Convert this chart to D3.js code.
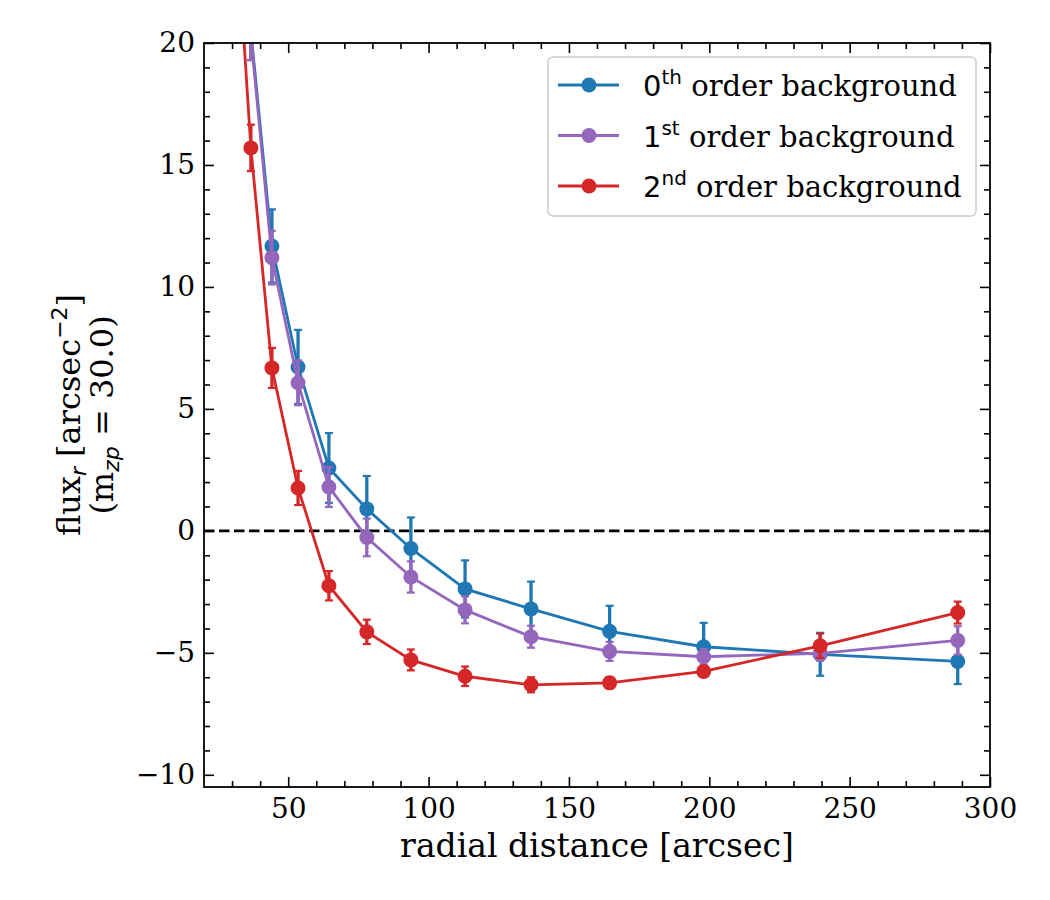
<!DOCTYPE html>
<html>
<head>
<meta charset="utf-8">
<script src="https://cdn.jsdelivr.net/npm/d3@7"></script>
<style>
  body { margin: 0; background: #fff; }
  svg { display: block; }
  text { font-family: "DejaVu Serif", serif; fill: #000; }
</style>
</head>
<body>
<svg id="chart" width="1050" height="900"></svg>
<script>
// radial bins [arcsec]
const radius = [30.5, 36.7, 44.2, 53.5, 64.5, 78.0, 93.7, 113.0, 136.5, 164.5, 198.0, 239.5, 288.5]

// flux per background order, with errors
const order0 = [40, 20.5, 11.68, 6.72, 2.58, 0.9, -0.72, -2.38, -3.2, -4.12, -4.75, -5.06, -5.35]
const order0Err = [2.5, 1.2, 1.5, 1.52, 1.43, 1.35, 1.27, 1.17, 1.12, 1.05, 0.98, 0.88, 0.93]
const order1 = [38, 20.3, 11.2, 6.07, 1.8, -0.27, -1.89, -3.24, -4.34, -4.94, -5.16, -5.02, -4.49]
const order1Err = [2.0, 1.0, 1.1, 0.92, 0.82, 0.77, 0.64, 0.55, 0.45, 0.39, 0.32, 0.3, 0.58]
const order2 = [26.8, 15.7, 6.68, 1.76, -2.25, -4.14, -5.29, -5.96, -6.31, -6.23, -5.76, -4.71, -3.35]
const order2Err = [1.2, 0.95, 0.82, 0.7, 0.6, 0.5, 0.43, 0.4, 0.31, 0.22, 0.2, 0.5, 0.45]

const seriesNames = ['0', '1', '2']
const seriesSup = ['th', 'st', 'nd']
const seriesColors = ['#1f77b4', '#9467bd', '#d62728']

const xTicks = [50, 100, 150, 200, 250, 300]
const yTicks = [-10, -5, 0, 5, 10, 15, 20]

const series = [order0, order1, order2].map((vals, i) => ({
  name: seriesNames[i], sup: seriesSup[i], color: seriesColors[i],
  points: vals.map((v, j) => ({ x: radius[j], y: v, e: [order0Err, order1Err, order2Err][i][j] }))
}))

// layout
const L = 204, R = 990, T = 43, B = 787
const svg = d3.select('#chart')

const x = d3.scaleLinear().domain([20, 300]).range([L, R])
const y = d3.scaleLinear().domain([-10.5, 20]).range([B, T])

svg.append('defs').append('clipPath').attr('id', 'plot')
  .append('rect').attr('x', L).attr('y', T).attr('width', R - L).attr('height', B - T)

// axes: ticks inward on all four sides
const minorX = d3.range(30, 300, 10).filter(v => v % 50 !== 0)
const minorY = d3.range(-10, 21, 1).filter(v => v % 5 !== 0)

function axisGroup(axis, tx, ty) {
  const g = svg.append('g').attr('transform', `translate(${tx},${ty})`).call(axis)
  g.select('.domain').remove()
  g.selectAll('.tick line').attr('stroke', '#000').attr('stroke-width', 1.6)
  g.selectAll('.tick text').style('font-size', '28px').style('font-family', '"DejaVu Serif", serif')
  return g
}

axisGroup(d3.axisBottom(x).tickValues(xTicks).tickSize(-10).tickPadding(11).tickFormat(d3.format('d')), 0, B)
axisGroup(d3.axisBottom(x).tickValues(minorX).tickSize(-6).tickFormat(''), 0, B)
axisGroup(d3.axisTop(x).tickValues(xTicks).tickSize(-10).tickFormat(''), 0, T)
axisGroup(d3.axisTop(x).tickValues(minorX).tickSize(-6).tickFormat(''), 0, T)
axisGroup(d3.axisLeft(y).tickValues(yTicks).tickSize(-10).tickPadding(9).tickFormat(d3.format('d')), L, 0)
axisGroup(d3.axisLeft(y).tickValues(minorY).tickSize(-6).tickFormat(''), L, 0)
axisGroup(d3.axisRight(y).tickValues(yTicks).tickSize(-10).tickFormat(''), R, 0)
axisGroup(d3.axisRight(y).tickValues(minorY).tickSize(-6).tickFormat(''), R, 0)

// zero line
svg.append('line')
  .attr('x1', L).attr('x2', R).attr('y1', y(0)).attr('y2', y(0))
  .attr('stroke', '#000').attr('stroke-width', 2.6).attr('stroke-dasharray', '10.5,4.5')

// data
const plot = svg.append('g').attr('clip-path', 'url(#plot)')
const line = d3.line().x(d => x(d.x)).y(d => y(d.y))

series.forEach(s => {
  const g = plot.append('g')
  g.selectAll('line.err').data(s.points).join('line')
    .attr('x1', d => x(d.x)).attr('x2', d => x(d.x))
    .attr('y1', d => y(d.y - d.e)).attr('y2', d => y(d.y + d.e))
    .attr('stroke', s.color).attr('stroke-width', 3.3)
  g.selectAll('line.capTop').data(s.points).join('line')
    .attr('x1', d => x(d.x) - 4).attr('x2', d => x(d.x) + 4)
    .attr('y1', d => y(d.y + d.e)).attr('y2', d => y(d.y + d.e))
    .attr('stroke', s.color).attr('stroke-width', 2.2)
  g.selectAll('line.capBot').data(s.points).join('line')
    .attr('x1', d => x(d.x) - 4).attr('x2', d => x(d.x) + 4)
    .attr('y1', d => y(d.y - d.e)).attr('y2', d => y(d.y - d.e))
    .attr('stroke', s.color).attr('stroke-width', 2.2)
  g.append('path').attr('d', line(s.points))
    .attr('fill', 'none').attr('stroke', s.color).attr('stroke-width', 2.8)
  g.selectAll('circle').data(s.points).join('circle')
    .attr('cx', d => x(d.x)).attr('cy', d => y(d.y)).attr('r', 7.5)
    .attr('fill', s.color)
})

// frame
svg.append('rect').attr('x', L).attr('y', T).attr('width', R - L).attr('height', B - T)
  .attr('fill', 'none').attr('stroke', '#000').attr('stroke-width', 1.8)

// legend
const leg = svg.append('g')
leg.append('rect').attr('x', 548).attr('y', 57).attr('width', 428).attr('height', 159)
  .attr('rx', 5).attr('fill', '#fff').attr('fill-opacity', 0.85)
  .attr('stroke', '#cccccc').attr('stroke-width', 1.5)

series.forEach((s, i) => {
  const cy = 85 + i * 50.5
  leg.append('line').attr('x1', 558).attr('x2', 619).attr('y1', cy).attr('y2', cy)
    .attr('stroke', s.color).attr('stroke-width', 2.8)
  leg.append('circle').attr('cx', 589).attr('cy', cy).attr('r', 7.5).attr('fill', s.color)
  const t = leg.append('text').attr('x', 643).attr('y', cy + 11).style('font-size', '29px')
  t.append('tspan').style('font-family', '"DejaVu Sans", sans-serif').text(s.name)
  t.append('tspan').style('font-family', '"DejaVu Sans", sans-serif').style('font-size', '20px')
    .attr('dy', -12).text(s.sup)
  t.append('tspan').attr('dy', 12).text(' order background')
})

// axis labels
svg.append('text').attr('x', (L + R) / 2).attr('y', 857).attr('text-anchor', 'middle')
  .style('font-size', '33px').text('radial distance [arcsec]')

const yl1 = svg.append('text').attr('transform', `translate(80,${(T + B) / 2}) rotate(-90)`)
  .attr('text-anchor', 'middle').style('font-size', '32px')
yl1.append('tspan').text('flux')
yl1.append('tspan').style('font-family', '"DejaVu Sans", sans-serif').style('font-style', 'italic')
  .style('font-size', '22px').attr('dy', 6).text('r')
yl1.append('tspan').attr('dy', -6).text(' [arcsec')
yl1.append('tspan').style('font-family', '"DejaVu Sans", sans-serif').style('font-size', '22px')
  .attr('dy', -13).text('−2')
yl1.append('tspan').attr('dy', 13).text(']')

const yl2 = svg.append('text').attr('transform', `translate(113,${(T + B) / 2}) rotate(-90)`)
  .attr('text-anchor', 'middle').style('font-size', '32px')
yl2.append('tspan').text('(m')
yl2.append('tspan').style('font-family', '"DejaVu Sans", sans-serif').style('font-style', 'italic')
  .style('font-size', '22px').attr('dy', 6).text('zp')
yl2.append('tspan').attr('dy', -6).text(' = 30.0)')
</script>
</body>
</html>
